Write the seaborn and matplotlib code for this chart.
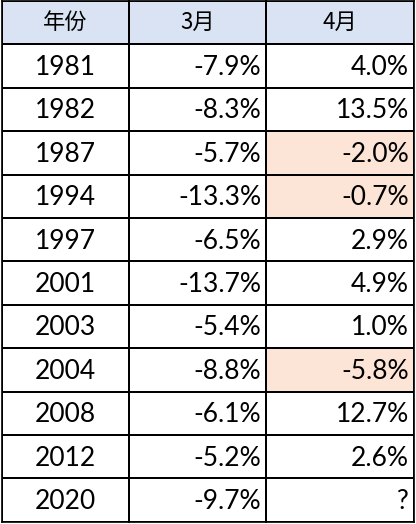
import matplotlib
matplotlib.use("Agg")
import matplotlib.pyplot as plt
import seaborn as sns
import numpy as np
from matplotlib.colors import ListedColormap

headers = ["年份", "3月", "4月"]
years = ["1981", "1982", "1987", "1994", "1997", "2001", "2003", "2004", "2008", "2012", "2020"]
march = ["-7.9%", "-8.3%", "-5.7%", "-13.3%", "-6.5%", "-13.7%", "-5.4%", "-8.8%", "-6.1%", "-5.2%", "-9.7%"]
april = ["4.0%", "13.5%", "-2.0%", "-0.7%", "2.9%", "4.9%", "1.0%", "-5.8%", "12.7%", "2.6%", "?"]
april_neg_flag = [0, 0, 1, 1, 0, 0, 0, 1, 0, 0, 0]

plt.rcParams['font.family'] = ['Lato', 'Noto Sans CJK SC', 'DejaVu Sans']
fig = plt.figure(figsize=(4.16, 5.24), dpi=100)
gs = fig.add_gridspec(1, 3, width_ratios=[128, 137, 149], wspace=0,
                      left=0.004, right=0.996, top=0.998, bottom=0.004)
cmap = ListedColormap(["white", "#dae3f3", "#fce4d6"])
cols = [years, march, april]
for j in range(3):
    ax = fig.add_subplot(gs[0, j])
    codes = [1] + ([2 if f else 0 for f in april_neg_flag] if j == 2 else [0] * len(years))
    sns.heatmap(np.array(codes).reshape(-1, 1), ax=ax, cmap=cmap, vmin=0, vmax=2,
                cbar=False, linewidths=1.2, linecolor="black",
                xticklabels=False, yticklabels=False)
    ax.text(0.5, 0.5, headers[j], ha="center", va="center", fontsize=16,
            family=['Noto Sans CJK SC', 'DejaVu Sans'])
    for i, v in enumerate(cols[j]):
        if j == 0:
            ax.text(0.5, i + 1.53, v, ha="center", va="center", fontsize=19)
        else:
            ax.text(0.965, i + 1.53, v, ha="right", va="center", fontsize=19)
    for s in ax.spines.values():
        s.set_visible(True); s.set_linewidth(1.2)
fig.savefig("out.png", dpi=100)
